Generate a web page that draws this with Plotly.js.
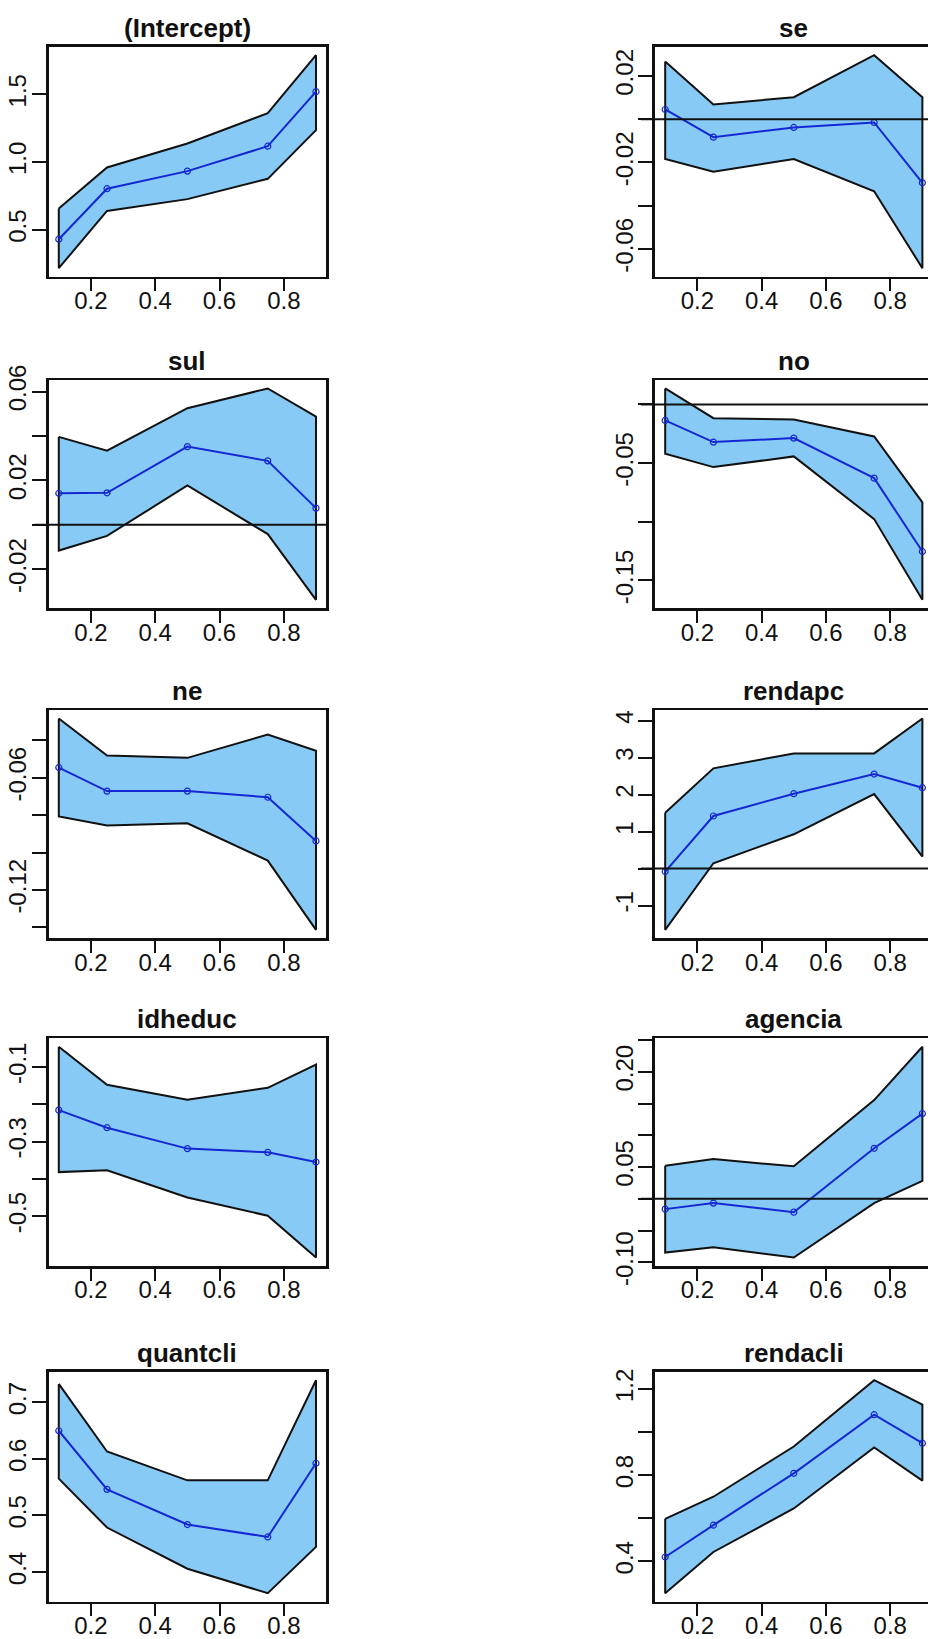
<!DOCTYPE html>
<html>
<head>
<meta charset="utf-8">
<script src="https://cdn.plot.ly/plotly-3.0.1.min.js"></script>
<style>
  html, body { margin: 0; padding: 0; overflow: hidden; background: #ffffff; }
  #wrap { width: 928px; height: 1639px; overflow: hidden; }
  #chart { width: 960px; height: 1639px; }
</style>
</head>
<body>
<div id="wrap"><div id="chart"></div></div>
<script>
// Quantile levels
const taus = [0.1, 0.25, 0.5, 0.75, 0.9];

// Panel titles (coefficient names)
const panelNames = ['(Intercept)', 'se', 'sul', 'no', 'ne', 'rendapc', 'idheduc', 'agencia', 'quantcli', 'rendacli'];

// Coefficient estimates and confidence band limits per quantile
const interceptCoef  = [0.430, 0.803, 0.933, 1.117, 1.520];
const interceptLower = [0.216, 0.639, 0.726, 0.876, 1.236];
const interceptUpper = [0.657, 0.960, 1.137, 1.361, 1.789];

const seCoef  = [0.0045, -0.0083, -0.0038, -0.0015, -0.0294];
const seLower = [-0.0184, -0.0243, -0.0184, -0.0333, -0.0689];
const seUpper = [0.0267, 0.0068, 0.0102, 0.0296, 0.0102];

const sulCoef  = [0.0142, 0.0144, 0.0352, 0.0288, 0.0075];
const sulLower = [-0.0116, -0.0050, 0.0177, -0.0042, -0.0338];
const sulUpper = [0.0396, 0.0334, 0.0525, 0.0614, 0.0487];

const noCoef  = [-0.0136, -0.0321, -0.0287, -0.0628, -0.1253];
const noLower = [-0.0420, -0.0534, -0.0443, -0.0977, -0.1665];
const noUpper = [0.0136, -0.0117, -0.0128, -0.0273, -0.0835];

const neCoef  = [-0.0545, -0.0671, -0.0671, -0.0704, -0.0938];
const neLower = [-0.0807, -0.0855, -0.0843, -0.1043, -0.1414];
const neUpper = [-0.0282, -0.0480, -0.0493, -0.0368, -0.0455];

const rendapcCoef  = [-0.081, 1.423, 2.027, 2.559, 2.189];
const rendapcLower = [-1.658, 0.144, 0.928, 2.018, 0.324];
const rendapcUpper = [1.514, 2.712, 3.117, 3.117, 4.063];

const idheducCoef  = [-0.216, -0.263, -0.319, -0.329, -0.355];
const idheducLower = [-0.382, -0.377, -0.450, -0.499, -0.611];
const idheducUpper = [-0.046, -0.148, -0.188, -0.156, -0.094];

const agenciaCoef  = [-0.0163, -0.0068, -0.0211, 0.0795, 0.1342];
const agenciaLower = [-0.0847, -0.0763, -0.0926, -0.0068, 0.0282];
const agenciaUpper = [0.0521, 0.0626, 0.0511, 0.1555, 0.2395];

const quantcliCoef  = [0.6497, 0.5462, 0.4840, 0.4621, 0.5923];
const quantcliLower = [0.5651, 0.4787, 0.4059, 0.3627, 0.4444];
const quantcliUpper = [0.7325, 0.6130, 0.5621, 0.5621, 0.7390];

const rendacliCoef  = [0.4202, 0.5678, 0.8085, 1.0804, 0.9483];
const rendacliLower = [0.2524, 0.4435, 0.6454, 0.9282, 0.7744];
const rendacliUpper = [0.5973, 0.6998, 0.9328, 1.2404, 1.1270];

// Axis ticks
const xTickVals = [0.2, 0.4, 0.6, 0.8];
const xTickText = ['0.2', '0.4', '0.6', '0.8'];

const yTickVals = [
  [0.5, 1.0, 1.5],
  [0.02, 0, -0.02, -0.04, -0.06],
  [0.06, 0.04, 0.02, 0, -0.02],
  [0, -0.05, -0.10, -0.15],
  [-0.04, -0.06, -0.08, -0.10, -0.12, -0.14],
  [4, 3, 2, 1, 0, -1],
  [-0.1, -0.2, -0.3, -0.4, -0.5],
  [0.25, 0.20, 0.15, 0.10, 0.05, 0, -0.05, -0.10],
  [0.7, 0.6, 0.5, 0.4],
  [1.2, 1.0, 0.8, 0.6, 0.4]
];
const yTickText = [
  ['0.5', '1.0', '1.5'],
  ['0.02', '', '-0.02', '', '-0.06'],
  ['0.06', '', '0.02', '', '-0.02'],
  ['', '-0.05', '', '-0.15'],
  ['', '-0.06', '', '', '-0.12', ''],
  ['4', '3', '2', '1', '', '-1'],
  ['-0.1', '', '-0.3', '', '-0.5'],
  ['', '0.20', '', '', '0.05', '', '', '-0.10'],
  ['0.7', '0.6', '0.5', '0.4'],
  ['1.2', '', '0.8', '', '0.4']
];

const panelData = [
  [interceptCoef, interceptLower, interceptUpper],
  [seCoef, seLower, seUpper],
  [sulCoef, sulLower, sulUpper],
  [noCoef, noLower, noUpper],
  [neCoef, neLower, neUpper],
  [rendapcCoef, rendapcLower, rendapcUpper],
  [idheducCoef, idheducLower, idheducUpper],
  [agenciaCoef, agenciaLower, agenciaUpper],
  [quantcliCoef, quantcliLower, quantcliUpper],
  [rendacliCoef, rendacliLower, rendacliUpper]
];

// ---- page geometry (pixels) ----
const W = 960, H = 1639;
const colLeft = [48.5, 654.9];
const pxPerX = 321.5;
const rowTop = [46.7, 380, 710, 1038.3, 1371.7];
const rowBottom = [276.7, 608.3, 938.3, 1266, 1601.7];

const FONT = 'Liberation Sans, Arial, Helvetica, sans-serif';
const BAND_FILL = '#87CAF5';
const LINE_BLUE = '#1428D2';

// padded range like R's default axis style
function padRange(vals) {
  const lo = Math.min(...vals), hi = Math.max(...vals);
  const d = hi - lo;
  return [lo - 0.04 * d, hi + 0.04 * d];
}

const xRange = padRange(taus);
const boxW = (xRange[1] - xRange[0]) * pxPerX;

const traces = [];
const layout = {
  width: W, height: H,
  margin: {l: 0, r: 0, t: 0, b: 0},
  paper_bgcolor: '#ffffff', plot_bgcolor: '#ffffff',
  showlegend: false,
  font: {family: FONT, color: '#000000', size: 24},
  shapes: [], annotations: []
};

panelNames.forEach((name, i) => {
  const row = Math.floor(i / 2), col = i % 2;
  const k = i + 1;
  const xa = 'x' + (k === 1 ? '' : k), ya = 'y' + (k === 1 ? '' : k);
  const [coef, lower, upper] = panelData[i];

  const left = colLeft[col], right = left + boxW;
  const top = rowTop[row], bottom = rowBottom[row];

  // confidence band as a closed polygon
  const px = taus.concat(taus.slice().reverse(), [taus[0]]);
  const py = upper.concat(lower.slice().reverse(), [upper[0]]);
  traces.push({
    x: px, y: py, xaxis: xa, yaxis: ya, type: 'scatter', mode: 'lines',
    fill: 'toself', fillcolor: BAND_FILL,
    line: {color: '#111111', width: 2}, hoverinfo: 'skip'
  });
  // coefficient path
  traces.push({
    x: taus, y: coef, xaxis: xa, yaxis: ya, type: 'scatter', mode: 'lines+markers',
    line: {color: LINE_BLUE, width: 2},
    marker: {symbol: 'circle-open', size: 6, color: LINE_BLUE, line: {width: 1.2, color: LINE_BLUE}}
  });

  const yRange = padRange(lower.concat(upper, coef));
  const axisCommon = {
    showgrid: false, zeroline: false, showline: true, mirror: true,
    linecolor: '#111111', linewidth: 2.5,
    ticks: 'outside', ticklen: 14, tickwidth: 2, tickcolor: '#111111',
    tickfont: {family: FONT, size: 24, color: '#111111'}
  };
  layout['xaxis' + (k === 1 ? '' : k)] = Object.assign({}, axisCommon, {
    domain: [left / W, right / W], anchor: ya, range: xRange,
    tickmode: 'array', tickvals: xTickVals, ticktext: xTickText,
    ticklen: 12, ticklabelstandoff: -11
  });
  layout['yaxis' + (k === 1 ? '' : k)] = Object.assign({}, axisCommon, {
    domain: [1 - bottom / H, 1 - top / H], anchor: xa, range: yRange,
    tickmode: 'array', tickvals: yTickVals[i], ticktext: yTickText[i], tickangle: -90,
    ticklabelstandoff: -4
  });

  // horizontal reference line at zero, wherever zero lies inside the panel
  if (yRange[0] < 0 && yRange[1] > 0) {
    layout.shapes.push({
      type: 'line', xref: 'paper', yref: ya,
      x0: (left - 14) / W, x1: right / W, y0: 0, y1: 0,
      line: {color: '#111111', width: 2}
    });
  }

  layout.annotations.push({
    text: '<b>' + name + '</b>', showarrow: false,
    xref: 'paper', yref: 'paper', xanchor: 'center', yanchor: 'bottom',
    x: (left + right) / 2 / W, y: 1 - (top - 2) / H,
    font: {family: FONT, size: 26, color: '#111111'}
  });
});

Plotly.newPlot('chart', traces, layout, {staticPlot: true, displayModeBar: false});
</script>
</body>
</html>
